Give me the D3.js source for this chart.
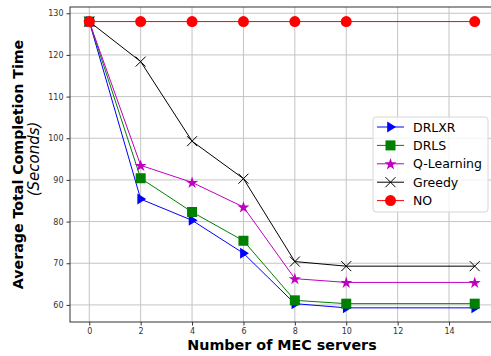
<!DOCTYPE html>
<html>
<head>
<meta charset="utf-8">
<script src="https://cdn.jsdelivr.net/npm/d3@7"></script>
<style>
  body { margin: 0; background: #fff; }
  svg { font-family: "DejaVu Sans", sans-serif; }
</style>
</head>
<body>
<svg width="491" height="356"></svg>
<script>
// number of MEC servers
const servers = [0, 2, 4, 6, 8, 10, 15];

// completion time per method (seconds)
const drlxr    = [128, 85.4, 80.3, 72.4, 60.3, 59.3, 59.3];
const drls     = [128, 90.4, 82.3, 75.4, 61.1, 60.3, 60.3];
const qlearn   = [128, 93.5, 89.4, 83.5, 66.3, 65.4, 65.4];
const greedy   = [128, 118.4, 99.3, 90.3, 70.4, 69.3, 69.3];
const noOffload = [128, 128, 128, 128, 128, 128, 128];

const xTicks = [0, 2, 4, 6, 8, 10, 12, 14];
const yTicks = [60, 70, 80, 90, 100, 110, 120, 130];

let svg = d3.select("svg");

const plotL = 70, plotR = 494, plotT = 7, plotB = 322;

let x = d3.scaleLinear().domain([-0.75, 15.75]).range([plotL, plotR]);
let y = d3.scaleLinear().domain([55.9, 131.5]).range([plotB, plotT]);

// grid
svg.append("g").selectAll("line").data(xTicks).enter().append("line")
    .attr("x1", d => x(d)).attr("x2", d => x(d))
    .attr("y1", plotT).attr("y2", plotB)
    .attr("stroke", "#c4c4c4").attr("stroke-width", 1);
svg.append("g").selectAll("line").data(yTicks).enter().append("line")
    .attr("x1", plotL).attr("x2", plotR)
    .attr("y1", d => y(d)).attr("y2", d => y(d))
    .attr("stroke", "#c4c4c4").attr("stroke-width", 1);

// axes
let xAxis = svg.append("g").attr("transform", `translate(0,${plotB})`)
    .call(d3.axisBottom(x).tickValues(xTicks).tickSize(3.5).tickPadding(3));
let yAxis = svg.append("g").attr("transform", `translate(${plotL},0)`)
    .call(d3.axisLeft(y).tickValues(yTicks).tickSize(3.5).tickPadding(3));
[xAxis, yAxis].forEach(a => {
    a.select(".domain").remove();
    a.selectAll("line").attr("stroke", "#333");
    a.selectAll("text").attr("font-size", "8px").attr("fill", "#333")
        .attr("font-family", "DejaVu Sans");
});

// frame
svg.append("rect").attr("x", plotL).attr("y", plotT)
    .attr("width", plotR - plotL).attr("height", plotB - plotT)
    .attr("fill", "none").attr("stroke", "#333").attr("stroke-width", 1);

// marker shapes
function triangleRight(g, cx, cy, color) {
    const s = 5.5;
    g.append("path")
        .attr("d", `M${cx + s},${cy} L${cx - s * 0.6},${cy - s} L${cx - s * 0.6},${cy + s} Z`)
        .attr("fill", color);
}
function square(g, cx, cy, color) {
    g.append("rect").attr("x", cx - 5).attr("y", cy - 5)
        .attr("width", 10).attr("height", 10).attr("fill", color);
}
function star(g, cx, cy, color) {
    g.append("path").attr("d", d3.symbol(d3.symbolStar, 45)())
        .attr("transform", `translate(${cx},${cy + 0.5})`).attr("fill", color);
}
function cross(g, cx, cy, color) {
    const s = 5;
    g.append("path")
        .attr("d", `M${cx - s},${cy - s}L${cx + s},${cy + s}M${cx - s},${cy + s}L${cx + s},${cy - s}`)
        .attr("stroke", color).attr("stroke-width", 1).attr("fill", "none");
}
function circle(g, cx, cy, color) {
    g.append("circle").attr("cx", cx).attr("cy", cy).attr("r", 5.5).attr("fill", color);
}

const series = [
    {name: "DRLXR", values: drlxr, color: "#0000ff", marker: triangleRight},
    {name: "DRLS", values: drls, color: "#008000", marker: square},
    {name: "Q-Learning", values: qlearn, color: "#bf00bf", marker: star},
    {name: "Greedy", values: greedy, color: "#000000", marker: cross},
    {name: "NO", values: noOffload, color: "#ff0000", marker: circle}
];

let line = d3.line().x(d => x(d[0])).y(d => y(d[1]));

series.forEach(s => {
    let g = svg.append("g");
    let pts = servers.map((v, i) => [v, s.values[i]]);
    g.append("path").datum(pts).attr("d", line)
        .attr("fill", "none").attr("stroke", s.color).attr("stroke-width", 1);
    pts.forEach(p => s.marker(g, x(p[0]), y(p[1]), s.color));
});

// legend
let lg = svg.append("g");
lg.append("rect").attr("x", 373).attr("y", 117).attr("width", 115).attr("height", 95)
    .attr("rx", 3).attr("fill", "#fff").attr("fill-opacity", 0.8)
    .attr("stroke", "#d6d6d6").attr("stroke-width", 1);
series.forEach((s, i) => {
    let cy = 127 + i * 18.4;
    lg.append("line").attr("x1", 377).attr("x2", 404).attr("y1", cy).attr("y2", cy)
        .attr("stroke", s.color).attr("stroke-width", 1);
    s.marker(lg, 390.5, cy, s.color);
    lg.append("text").attr("x", 413).attr("y", cy + 4.5)
        .attr("font-size", "12.5px").attr("fill", "#000").text(s.name);
});

// axis labels
svg.append("text").attr("x", 282).attr("y", 350).attr("text-anchor", "middle")
    .attr("font-size", "14.3px").attr("font-weight", "bold").text("Number of MEC servers");

svg.append("text").attr("transform", "translate(23,164.5) rotate(-90)")
    .attr("text-anchor", "middle").attr("font-size", "14.2px").attr("font-weight", "bold")
    .text("Average Total Completion Time");
svg.append("text").attr("transform", "translate(38.5,159) rotate(-90)")
    .attr("text-anchor", "middle").attr("font-size", "15px").attr("font-style", "italic")
    .text("(Seconds)");
</script>
</body>
</html>
